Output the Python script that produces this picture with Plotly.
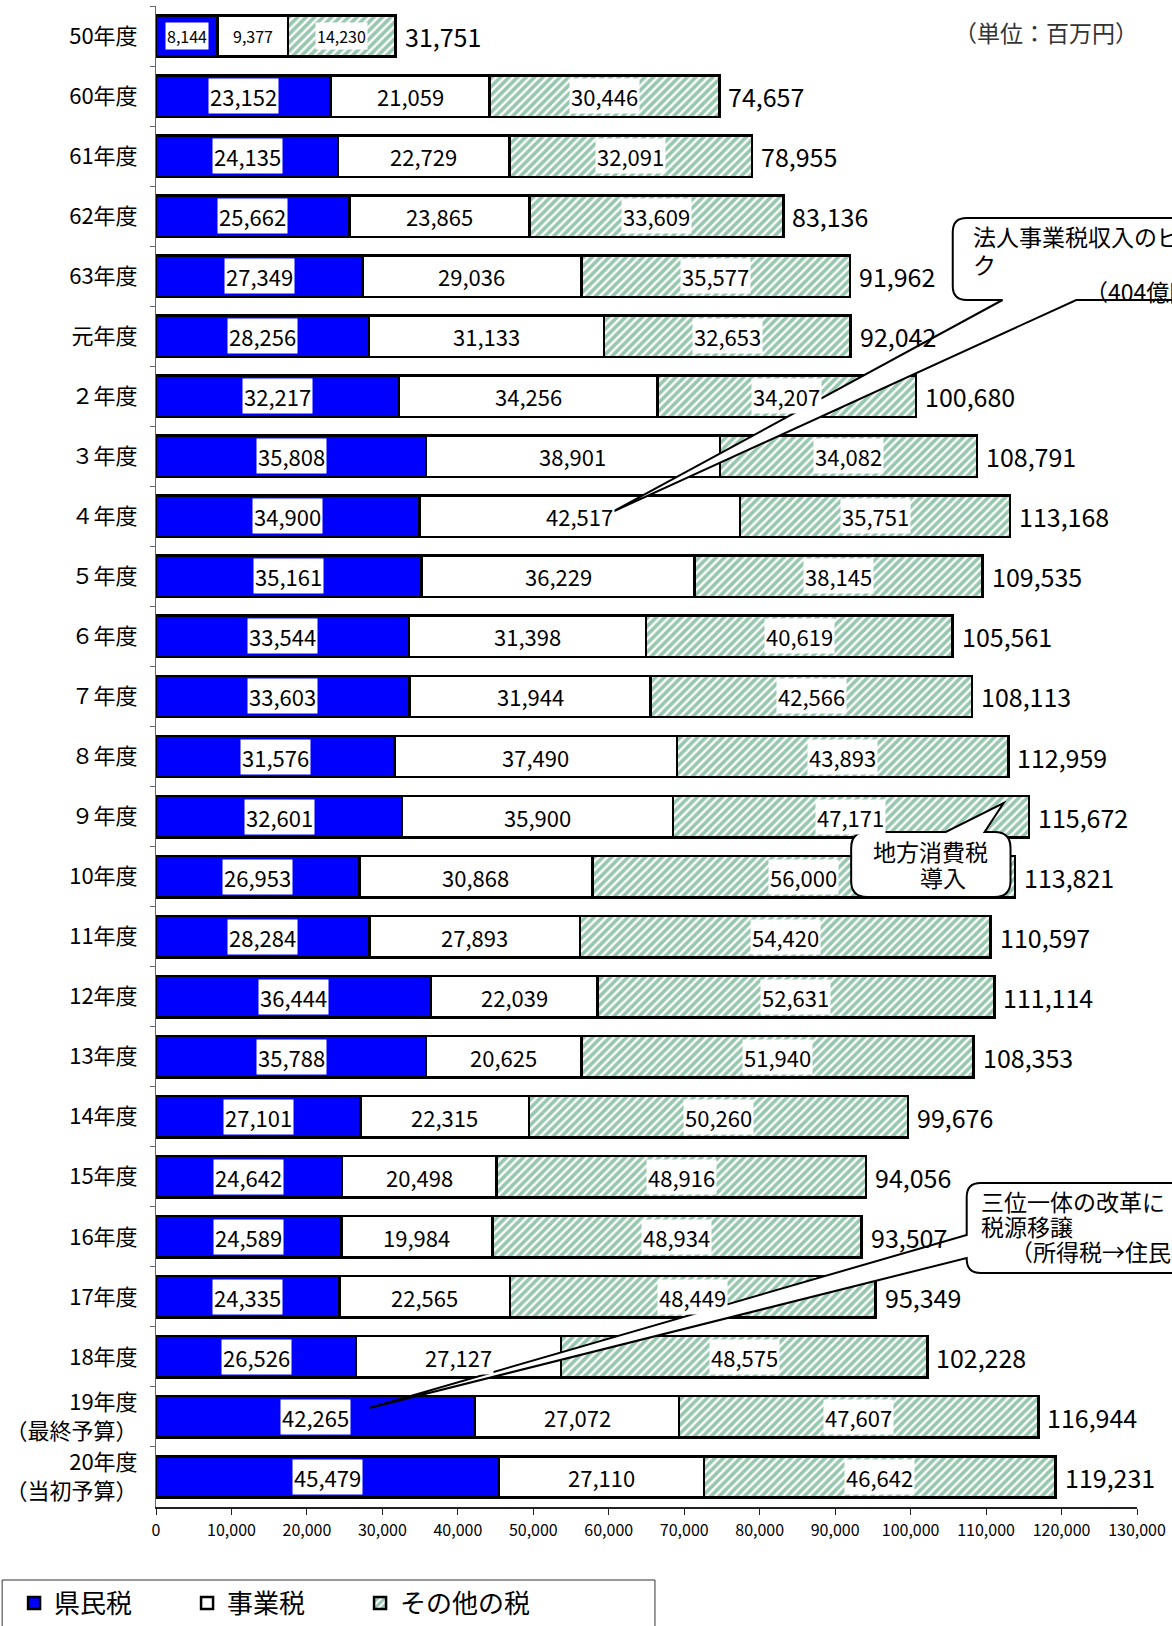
import plotly.graph_objects as go

# ---------------- data ----------------
categories = ["50年度", "60年度", "61年度", "62年度", "63年度", "元年度",
              "２年度", "３年度", "４年度", "５年度", "６年度", "７年度",
              "８年度", "９年度", "10年度", "11年度", "12年度", "13年度",
              "14年度", "15年度", "16年度", "17年度", "18年度",
              "19年度<br>（最終予算）", "20年度<br>（当初予算）"]
kenmin = [8144, 23152, 24135, 25662, 27349, 28256, 32217, 35808, 34900, 35161,
          33544, 33603, 31576, 32601, 26953, 28284, 36444, 35788, 27101, 24642,
          24589, 24335, 26526, 42265, 45479]
jigyo = [9377, 21059, 22729, 23865, 29036, 31133, 34256, 38901, 42517, 36229,
         31398, 31944, 37490, 35900, 30868, 27893, 22039, 20625, 22315, 20498,
         19984, 22565, 27127, 27072, 27110]
sonota = [14230, 30446, 32091, 33609, 35577, 32653, 34207, 34082, 35751, 38145,
          40619, 42566, 43893, 47171, 56000, 54420, 52631, 51940, 50260, 48916,
          48934, 48449, 48575, 47607, 46642]
totals = [31751, 74657, 78955, 83136, 91962, 92042, 100680, 108791, 113168, 109535,
          105561, 108113, 112959, 115672, 113821, 110597, 111114, 108353, 99676, 94056,
          93507, 95349, 102228, 116944, 119231]
series_names = ["県民税", "事業税", "その他の税"]
x_tickvals = list(range(0, 130001, 10000))

# ---------------- layout helpers ----------------
W, H = 1172, 1626
L, R, T, B = 155, 32, 6, 119
PW = W - L - R
PH = H - T - B
FONT = "Noto Sans CJK JP"


def px(x):
    return (x - L) / PW


def py(y):
    return (H - B - y) / PH


def P(x, y):
    return f"{px(x):.5f},{py(y):.5f}"


GREEN = "#2f8f5f"
BLUE = "#0000FF"

fig = go.Figure()
fig.add_bar(y=categories, x=kenmin, orientation="h", name=series_names[0],
            marker=dict(color=BLUE, line=dict(color="black", width=2.5)),
            hoverinfo="skip")
fig.add_bar(y=categories, x=jigyo, orientation="h", name=series_names[1],
            marker=dict(color="white", line=dict(color="black", width=2.5)),
            hoverinfo="skip")
fig.add_bar(y=categories, x=sonota, orientation="h", name=series_names[2],
            marker=dict(color="white",
                        pattern=dict(shape="/", fgcolor=GREEN, bgcolor="white",
                                     size=6, solidity=0.6),
                        line=dict(color="black", width=2.5)),
            hoverinfo="skip")

annotations = []
for i, c in enumerate(categories):
    fs = 16 if i == 0 else 22
    start = 0
    for v in (kenmin[i], jigyo[i], sonota[i]):
        annotations.append(dict(x=start + v / 2, y=c, xref="x", yref="y",
                                text=f"{v:,}", showarrow=False,
                                bgcolor="white", borderpad=1,
                                font=dict(family=FONT, size=fs, color="black")))
        start += v
    annotations.append(dict(x=start, y=c, xref="x", yref="y", text=f"{totals[i]:,}",
                            showarrow=False, xanchor="left", xshift=7,
                            font=dict(family=FONT, size=25, color="black")))

# unit label
annotations.append(dict(x=px(1143), y=py(32), xref="paper", yref="paper",
                        text="（単位：百万円）", showarrow=False, xanchor="right",
                        yanchor="middle",
                        font=dict(family=FONT, size=23, color="#333333")))

# callout texts
cfont = dict(family=FONT, size=23, color="black")
callout_texts = [
    ("法人事業税収入のピー", 973, 236, "left"),
    ("ク", 973, 264, "left"),
    ("（404億円）", 1086, 291, "left"),
    ("地方消費税", 933, 851, "center"),
    ("導入", 945, 877, "center"),
    ("三位一体の改革に", 981, 1201, "left"),
    ("税源移譲", 981, 1226, "left"),
    ("（所得税→住民税）", 1010, 1251, "left"),
]
for txt, x, y, anc in callout_texts:
    annotations.append(dict(x=px(x), y=py(y), xref="paper", yref="paper", text=txt,
                            showarrow=False, xanchor=anc, yanchor="middle", font=cfont))

shapes = []
# callout 1
x0, y0, x1, y1, r = 955, 218, 1300, 300, 14
path1 = (f"M{P(x0 + r, y0)} L{P(x1, y0)} L{P(x1, y1)} L{P(1079, y1)} L{P(613, 512)} "
         f"L{P(1005, y1)} L{P(x0 + r, y1)} Q{P(x0, y1)} {P(x0, y1 - r)} "
         f"L{P(x0, y0 + r)} Q{P(x0, y0)} {P(x0 + r, y0)} Z")
# callout 2
x0, y0, x1, y1, r = 853, 832, 1013, 897, 16
path2 = (f"M{P(x0 + r, y0)} L{P(948, y0)} L{P(1006, 803)} L{P(987, y0)} "
         f"L{P(x1 - r, y0)} Q{P(x1, y0)} {P(x1, y0 + r)} L{P(x1, y1 - r)} "
         f"Q{P(x1, y1)} {P(x1 - r, y1)} L{P(x0 + r, y1)} Q{P(x0, y1)} {P(x0, y1 - r)} "
         f"L{P(x0, y0 + r)} Q{P(x0, y0)} {P(x0 + r, y0)} Z")
# callout 3
x0, y0, x1, y1, r = 969, 1183, 1300, 1273, 14
path3 = (f"M{P(x0 + r, y0)} L{P(x1, y0)} L{P(x1, y1)} L{P(x0 + r, y1)} "
         f"Q{P(x0, y1)} {P(x0, y1 - r)} L{P(x0, 1258)} L{P(369, 1408)} "
         f"L{P(x0, 1235)} L{P(x0, y0 + r)} Q{P(x0, y0)} {P(x0 + r, y0)} Z")
for pth in (path1, path2, path3):
    shapes.append(dict(type="path", path=pth, xref="paper", yref="paper",
                       fillcolor="white", line=dict(color="black", width=2),
                       layer="above"))
# legend box
shapes.append(dict(type="rect", xref="paper", yref="paper",
                   x0=px(0.5), x1=px(656), y0=py(1640), y1=py(1580),
                   line=dict(color="#333333", width=1), fillcolor="rgba(0,0,0,0)"))

fig.update_layout(
    width=W, height=H,
    margin=dict(l=L, r=R, t=T, b=B, pad=0),
    barmode="stack", bargap=0.31,
    plot_bgcolor="white", paper_bgcolor="white",
    font=dict(family=FONT, color="black"),
    annotations=annotations, shapes=shapes,
    showlegend=True,
    legend=dict(orientation="h", xref="container", yref="container",
                x=0.012, y=(H - 1603) / H, xanchor="left", yanchor="middle",
                font=dict(family=FONT, size=26, color="black"),
                entrywidth=128, itemwidth=30, traceorder="normal",
                bgcolor="rgba(0,0,0,0)", borderwidth=0),
    xaxis=dict(range=[0, 130000], tickvals=x_tickvals, tickformat=",d",
               showgrid=False, zeroline=False, showline=True, linecolor="#222222",
               linewidth=1.5, ticks="outside", ticklen=6, tickcolor="#222222",
               tickfont=dict(family=FONT, size=16, color="black"),
               ticklabelstandoff=2, fixedrange=True),
    yaxis=dict(type="category", autorange="reversed", showgrid=False,
               showline=True, linecolor="#666666", linewidth=1,
               ticks="outside", tickson="boundaries", ticklen=5, tickcolor="#666666",
               tickfont=dict(family=FONT, size=22, color="black"),
               ticklabelstandoff=13, fixedrange=True),
)

fig.write_html("out.html")
